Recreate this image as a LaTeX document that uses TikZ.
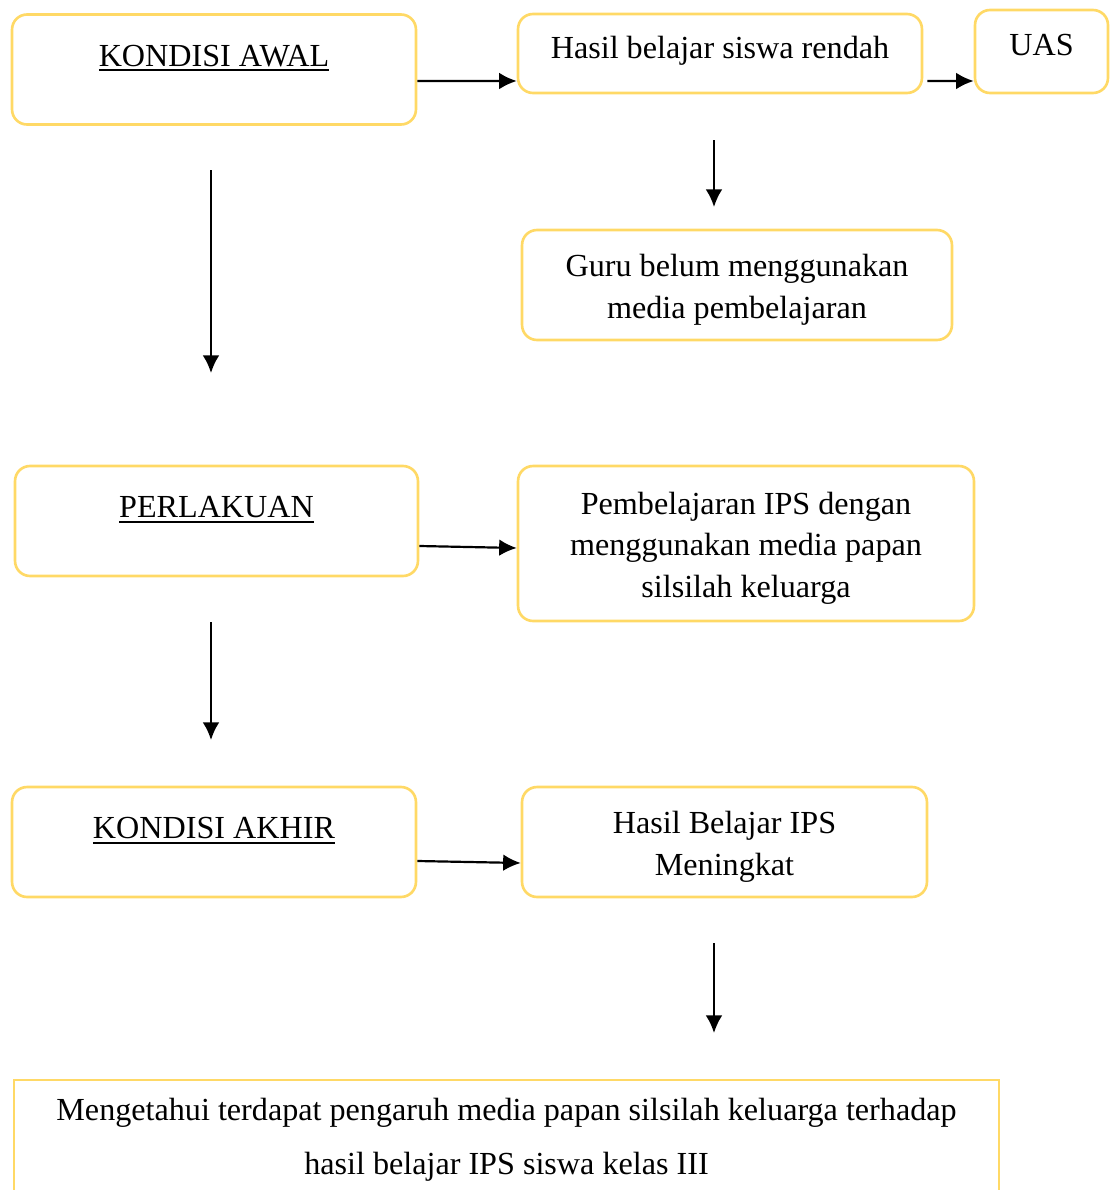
\documentclass[tikz,border=0pt]{standalone}
\usepackage{fontspec}
\setmainfont{Liberation Serif}
\usepackage{tikz}
\usetikzlibrary{arrows.meta}
\definecolor{kuning}{HTML}{FFD966}
\newcommand{\garisbawah}[1]{\setbox0\hbox{#1}\rlap{\rule[-2.9pt]{\wd0}{1.1pt}}\box0}
\newcommand{\turun}{\rule{0pt}{18pt}}

\begin{document}
\begin{tikzpicture}[x=0.02cm,y=-0.02cm]
      \tikzstyle{every node}=[font=\fontsize{18.3}{23.8}\selectfont,align=center,inner sep=0pt]
      \tikzstyle{kotak}=[draw=kuning,line width=1.5pt,rounded corners=0.3cm]
      \tikzstyle{judul}=[kotak,minimum height=2.2cm,text height=12.3pt,text depth=16pt]
      \tikzstyle{panah}=[-{Latex[length=10pt,width=9.5pt]},line width=1.25pt]
      \useasboundingbox (0,0) rectangle (1112,1190);

      \node[judul,minimum width=8.08cm] (awal) at (214,69.5) {\garisbawah{KONDISI AWAL}};
      \node[kotak,minimum width=8.08cm,minimum height=1.58cm,text height=12.3pt,text depth=6.1pt] (hasil) at (720,53.5) {Hasil belajar siswa rendah};
      \node[kotak,minimum width=2.66cm,minimum height=1.66cm,text height=12.3pt,text depth=8.3pt] (uas) at (1041.5,51.5) {UAS};
      \node[kotak,minimum width=8.6cm,minimum height=2.2cm] (guru) at (737,285) {\turun Guru belum menggunakan\\media pembelajaran};

      \node[judul,minimum width=8.06cm] (perlakuan) at (216.5,521) {\garisbawah{PERLAKUAN}};
      \node[kotak,minimum width=9.12cm,minimum height=3.1cm] (ips) at (746,543.5) {\turun Pembelajaran IPS dengan\\menggunakan media papan\\silsilah keluarga};

      \node[judul,minimum width=8.08cm] (akhir) at (214,842) {\garisbawah{KONDISI AKHIR}};
      \node[kotak,minimum width=8.1cm,minimum height=2.2cm] (meningkat) at (724.5,842) {\turun Hasil Belajar IPS\\Meningkat};

      \node[draw=kuning,line width=1.5pt,minimum width=19.7cm,minimum height=2.4cm,font=\fontsize{18.3}{30.6}\selectfont] (tujuan) at (506.5,1140) {Mengetahui terdapat pengaruh media papan silsilah keluarga terhadap\\hasil belajar IPS siswa kelas III};

      \coordinate (p1) at (714,140);
      \coordinate (p2) at (714,207);
      \coordinate (p3) at (211,170);
      \coordinate (p4) at (211,373);
      \coordinate (p5) at (211,622);
      \coordinate (p6) at (211,740);
      \coordinate (p7) at (714,943);
      \coordinate (p8) at (714,1033);

      \draw[panah] ([yshift=-0.23cm]awal.east) -- ([yshift=-0.55cm]hasil.west);
      \draw[panah] ([shift={(0.08cm,-0.55cm)}]hasil.east) -- ([yshift=-0.59cm]uas.west);
      \draw[panah] ([yshift=-0.5cm]perlakuan.east) -- ([yshift=-0.09cm]ips.west);
      \draw[panah] ([yshift=-0.38cm]akhir.east) -- ([yshift=-0.42cm]meningkat.west);

      \draw[panah] (p1) -- (p2);
      \draw[panah] (p3) -- (p4);
      \draw[panah] (p5) -- (p6);
      \draw[panah] (p7) -- (p8);
    \end{tikzpicture}
\end{document}
